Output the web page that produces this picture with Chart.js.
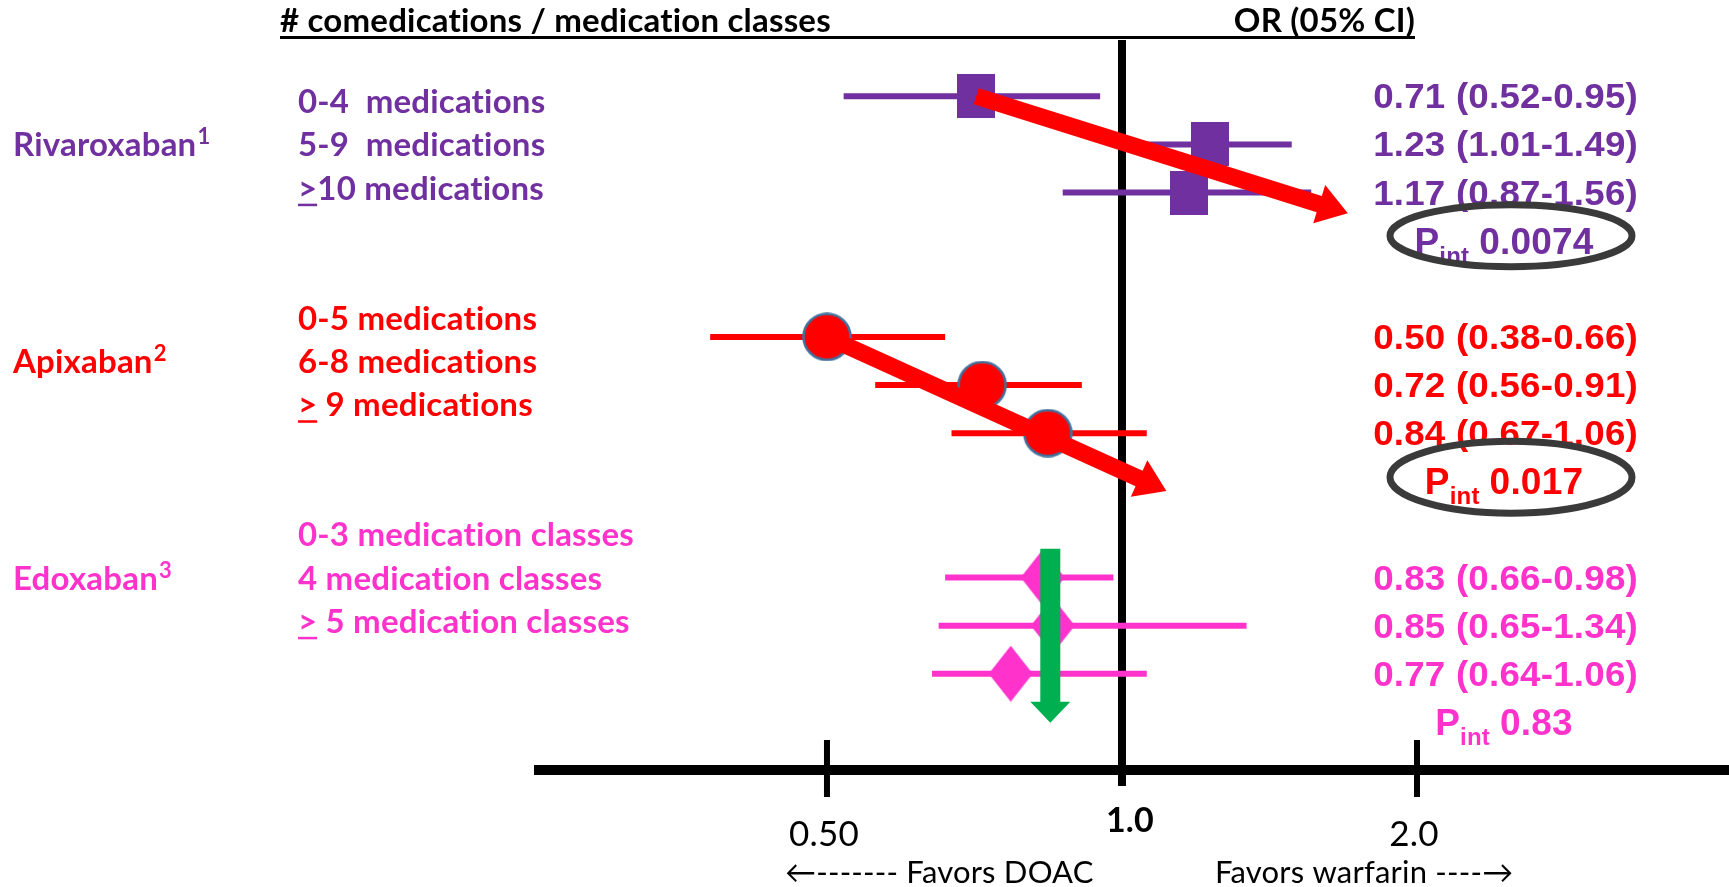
<!DOCTYPE html>
<html>
<head>
<meta charset="utf-8">
<script src="https://cdn.jsdelivr.net/npm/chart.js@4.4.1/dist/chart.umd.min.js"></script>
<style>
  html, body { margin: 0; padding: 0; background: #fff; overflow: hidden; }
  #wrap { width: 1729px; height: 887px; position: relative; }
</style>
</head>
<body>
<div id="wrap"><canvas id="forest" width="1729" height="887"></canvas></div>
<script>
// ---- data ----
const drugs = ['Rivaroxaban', 'Apixaban', 'Edoxaban'];
const drugRefs = ['1', '2', '3'];
const drugColors = ['#7030a0', '#ff0000', '#ff33cc'];

const rivaLabels = ['0-4  medications', '5-9  medications', '>10 medications'];
const apixLabels = ['0-5 medications', '6-8 medications', '> 9 medications'];
const edoxLabels = ['0-3 medication classes', '4 medication classes', '> 5 medication classes'];

const rivaOR = [0.71, 1.23, 1.17];
const rivaLo = [0.52, 1.01, 0.87];
const rivaHi = [0.95, 1.49, 1.56];
const apixOR = [0.50, 0.72, 0.84];
const apixLo = [0.38, 0.56, 0.67];
const apixHi = [0.66, 0.91, 1.06];
const edoxOR = [0.83, 0.85, 0.77];
const edoxLo = [0.66, 0.65, 0.64];
const edoxHi = [0.98, 1.34, 1.06];
const pInt = ['0.0074', '0.017', '0.83'];

// row slots (top = 0)
const groupRows = [3, 7.5, 12];
const rivaRows = [2, 3, 4];
const apixRows = [7, 8, 9];
const edoxRows = [12, 13, 14];
const pRows = [5, 10, 15];

const xTicks = [0.5, 1, 2];
const xTickLabels = ['0.50', '1.0', '2.0'];

// trend arrows drawn on the slide, in (OR, row) units
const trendArrows = [
  { from: [0.71, 2], to: [1.70, 4.43], color: '#ff0000' },
  { from: [0.50, 7], to: [1.11, 10.2], color: '#ff0000' }
];
const flatArrow = { from: [0.845, 11.4], to: [0.845, 15.02], color: '#00b050' };

const groups = [
  { labels: rivaLabels, or: rivaOR, lo: rivaLo, hi: rivaHi, rows: rivaRows },
  { labels: apixLabels, or: apixOR, lo: apixLo, hi: apixHi, rows: apixRows },
  { labels: edoxLabels, or: edoxOR, lo: edoxLo, hi: edoxHi, rows: edoxRows }
];

const CAL = 'Lato, "Open Sans", sans-serif';
const ARI = '"Liberation Sans", Arial, sans-serif';

// marker images
function markerCanvas(w, h, draw) {
  const c = document.createElement('canvas');
  c.width = w; c.height = h;
  draw(c.getContext('2d'), w, h);
  return c;
}
const squareImg = markerCanvas(38, 44, (g, w, h) => { g.fillStyle = drugColors[0]; g.fillRect(0, 0, w, h); });
const circleImg = markerCanvas(50, 49, (g, w, h) => {
  g.beginPath(); g.ellipse(w / 2, h / 2, w / 2 - 1.5, h / 2 - 1.5, 0, 0, Math.PI * 2);
  g.fillStyle = drugColors[1]; g.fill();
  g.lineWidth = 2.5; g.strokeStyle = '#41719c'; g.stroke();
});
const diamondImg = markerCanvas(44, 56, (g, w, h) => {
  g.beginPath(); g.moveTo(w / 2, 0); g.lineTo(w, h / 2); g.lineTo(w / 2, h); g.lineTo(0, h / 2); g.closePath();
  g.fillStyle = drugColors[2]; g.fill();
});
const markerImgs = [squareImg, circleImg, diamondImg];

// datasets
const datasets = [];
groups.forEach((g, gi) => {
  datasets.push({
    label: drugs[gi],
    data: g.or.map((v, i) => ({ x: v, y: g.rows[i] })),
    pointStyle: markerImgs[gi],
    pointRadius: 20,
    showLine: false,
    order: 0
  });
  g.or.forEach((v, i) => {
    datasets.push({
      label: drugs[gi] + ' CI ' + i,
      data: [{ x: g.lo[i], y: g.rows[i] }, { x: g.hi[i], y: g.rows[i] }],
      showLine: true,
      borderColor: drugColors[gi],
      borderWidth: 6,
      borderCapStyle: 'butt',
      pointRadius: 0,
      order: 1
    });
  });
});

function txt(ctx, s, x, y, font, color, align, sx) {
  sx = sx || 1;
  ctx.save();
  ctx.font = font;
  ctx.letterSpacing = '0.2px';
  ctx.fillStyle = color;
  ctx.textBaseline = 'alphabetic';
  const w = ctx.measureText(s).width * sx;
  const x0 = align === 'right' ? x - w : align === 'center' ? x - w / 2 : x;
  ctx.translate(x0, y);
  ctx.scale(sx, 1);
  ctx.fillText(s, 0, 0);
  ctx.restore();
  return w;
}

function arrow(ctx, x0, y0, x1, y1, shaft, headW, headL, color) {
  const a = Math.atan2(y1 - y0, x1 - x0);
  const len = Math.hypot(x1 - x0, y1 - y0);
  ctx.save();
  ctx.translate(x0, y0);
  ctx.rotate(a);
  ctx.beginPath();
  ctx.moveTo(0, -shaft / 2);
  ctx.lineTo(len - headL, -shaft / 2);
  ctx.lineTo(len - headL, -headW / 2);
  ctx.lineTo(len, 0);
  ctx.lineTo(len - headL, headW / 2);
  ctx.lineTo(len - headL, shaft / 2);
  ctx.lineTo(0, shaft / 2);
  ctx.closePath();
  ctx.fillStyle = color;
  ctx.fill();
  ctx.restore();
}

const forestDecor = {
  id: 'forestDecor',
  beforeDatasetsDraw(chart) {
    const { ctx, scales: { x } } = chart;
    const xr = x.getPixelForValue(1);
    ctx.save();
    // reference line at OR = 1
    ctx.fillStyle = '#000';
    ctx.fillRect(xr - 4, 40, 8, 746);
    // x axis line
    const ya = chart.chartArea.bottom;
    ctx.fillRect(chart.chartArea.left, ya - 5, chart.chartArea.right - chart.chartArea.left, 10);
    xTicks.forEach(t => {
      if (t === 1) return;
      const px = x.getPixelForValue(t);
      ctx.fillRect(px - 3, ya - 30, 6, 57);
    });
    ctx.restore();
  },
  afterDatasetsDraw(chart) {
    const { ctx, scales: { x, y } } = chart;
    trendArrows.forEach(a => {
      arrow(ctx, x.getPixelForValue(a.from[0]), y.getPixelForValue(a.from[1]),
        x.getPixelForValue(a.to[0]), y.getPixelForValue(a.to[1]), 17, 40, 30, a.color);
    });
    arrow(ctx, x.getPixelForValue(flatArrow.from[0]), y.getPixelForValue(flatArrow.from[1]),
      x.getPixelForValue(flatArrow.to[0]), y.getPixelForValue(flatArrow.to[1]), 20, 40, 21, flatArrow.color);
  },
  afterDraw(chart) {
    const { ctx, scales: { x, y } } = chart;
    // header
    txt(ctx, '# comedications / medication classes', 280, 32, 'bold 33px ' + CAL, '#000');
    txt(ctx, 'OR (05% CI)', 1415, 32, 'bold 33px ' + CAL, '#000', 'right');
    ctx.fillStyle = '#000';
    ctx.fillRect(280, 36, 1415 - 280, 3);

    groups.forEach((g, gi) => {
      const col = drugColors[gi];
      // drug name with reference superscript
      const gy = y.getPixelForValue(groupRows[gi]) + 12;
      const nw = txt(ctx, drugs[gi], 13, gy, 'bold 33px ' + CAL, col);
      txt(ctx, drugRefs[gi], 13 + nw + 1, gy - 12, 'bold 22px ' + CAL, col);
      // subgroup labels
      g.labels.forEach((lab, i) => {
        const ly = y.getPixelForValue(groupRows[gi] + (i - 1) * 0.9) + 12;
        txt(ctx, lab, 298, ly, 'bold 33px ' + CAL, col);
        if (lab[0] === '>') {
          ctx.save();
          ctx.font = 'bold 33px ' + CAL;
          const cw = ctx.measureText('>').width;
          ctx.fillStyle = col;
          ctx.fillRect(298, ly + 4, cw, 2.5);
          ctx.restore();
        }
      });
      // OR (CI) column
      g.or.forEach((v, i) => {
        const s = v.toFixed(2) + ' (' + g.lo[i].toFixed(2) + '-' + g.hi[i].toFixed(2) + ')';
        txt(ctx, s, 1638, y.getPixelForValue(g.rows[i]) + 12, 'bold 35px ' + ARI, col, 'right', 1.05);
      });
      // P interaction
      const py = y.getPixelForValue(pRows[gi]);
      ctx.save();
      ctx.letterSpacing = '0.2px';
      ctx.font = 'bold 37px ' + ARI;
      const wP = ctx.measureText('P').width;
      const wN = ctx.measureText(pInt[gi]).width;
      ctx.font = 'bold 24px ' + ARI;
      const wI = ctx.measureText('int').width;
      ctx.restore();
      const total = wP + wI + 10 + wN;
      const x0 = 1504 - total / 2;
      txt(ctx, 'P', x0, py + 13, 'bold 37px ' + ARI, col);
      txt(ctx, 'int', x0 + wP, py + 23, 'bold 24px ' + ARI, col);
      txt(ctx, pInt[gi], x0 + wP + wI + 10, py + 13, 'bold 37px ' + ARI, col);
      if (gi < 2) {
        ctx.save();
        ctx.beginPath();
        ctx.ellipse(1511, py - (gi === 0 ? 5 : 4), 121, gi === 0 ? 31 : 36, 0, 0, Math.PI * 2);
        ctx.lineWidth = 7;
        ctx.strokeStyle = '#3a3a3a';
        ctx.stroke();
        ctx.restore();
      }
    });

    // tick labels
    xTicks.forEach((t, i) => {
      const px = x.getPixelForValue(t);
      if (t === 1) txt(ctx, xTickLabels[i], px + 8, 832, 'bold 34px ' + CAL, '#000', 'center');
      else txt(ctx, xTickLabels[i], px - 3, 846, '35px ' + CAL, '#000', 'center');
    });
    txt(ctx, '\u2190------- Favors DOAC', 785, 883, '31px ' + CAL, '#000');
    txt(ctx, 'Favors warfarin ----\u2192', 1215, 883, '31px ' + CAL, '#000');
  }
};

new Chart(document.getElementById('forest').getContext('2d'), {
  type: 'scatter',
  data: { datasets: datasets },
  options: {
    responsive: false,
    animation: false,
    events: [],
    layout: { autoPadding: false, padding: { left: 534, right: 0, top: 0, bottom: 117 } },
    scales: {
      x: { type: 'logarithmic', min: 0.2512, max: 4.163, bounds: 'data', display: false },
      y: { type: 'linear', min: 0, max: 16, reverse: true, display: false }
    },
    plugins: { legend: { display: false }, tooltip: { enabled: false } }
  },
  plugins: [forestDecor]
});
</script>
</body>
</html>
